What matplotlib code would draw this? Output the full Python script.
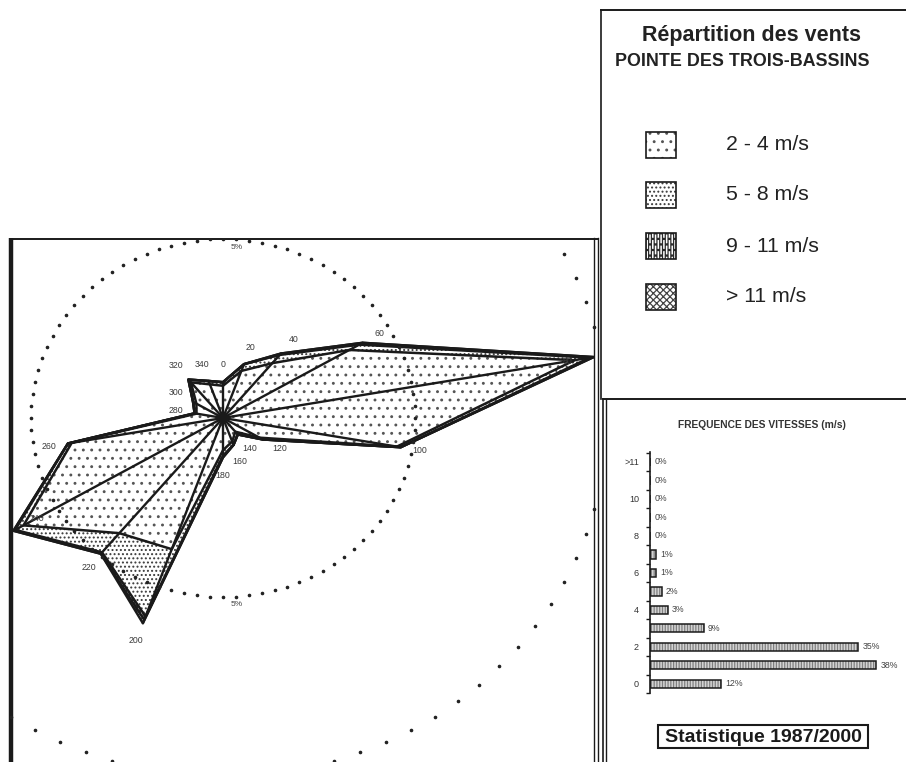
import numpy as np
import matplotlib
matplotlib.use("Agg")
import matplotlib.pyplot as plt
from matplotlib.patches import Polygon, Rectangle

# ============================================================
# Settings
# ============================================================

plt.rcParams.update({
    "font.family": "Liberation Sans",
    "hatch.linewidth": 0.9,
})

W, H = 906, 762

# ============================================================
# Data
# ============================================================

# wind rose: frequency (%) per direction and speed class
DIRECTIONS = [0, 20, 40, 60, 80, 100, 120, 140, 160,
              180, 200, 220, 240, 260, 280, 300, 320, 340]
FREQ_2_4 = [0.9, 1.4, 2.0, 3.8, 9.3, 4.6, 1.1, 0.5, 0.7,
            0.9, 3.9, 4.2, 6.0, 4.0, 0.7, 0.8, 1.3, 1.0]
FREQ_5_8 = [0.1, 0.2, 0.3, 0.3, 0.4, 0.1, 0.1, 0.1, 0.1,
            0.15, 2.0, 0.7, 0.25, 0.1, 0.05, 0.1, 0.1, 0.1]
FREQ_9_11 = [0.0, 0.0, 0.05, 0.1, 0.1, 0.0, 0.0, 0.0, 0.0,
             0.05, 0.1, 0.05, 0.05, 0.0, 0.0, 0.0, 0.0, 0.0]
FREQ_OVER_11 = [0.0, 0.0, 0.0, 0.0, 0.0, 0.0, 0.0, 0.0, 0.0,
                0.0, 0.1, 0.0, 0.0, 0.0, 0.0, 0.0, 0.0, 0.0]
CLASS_LABELS = ["2 - 4 m/s", "5 - 8 m/s", "9 - 11 m/s", "> 11 m/s"]
RINGS = [5, 10]

# speed histogram (m/s classes, %)
SPEED_TICKS = ["0", "", "2", "", "4", "", "6", "", "8", "", "10", "", ">11"]
SPEED_FREQ = [12, 38, 35, 9, 3, 2, 1, 1, 0, 0, 0, 0, 0]

HATCHES = ["..", "....", "||||||...", "xxxxx"]
HATCH_COLORS = ["#555555", "#3a3a3a", "#2a2a2a", "#444444"]

# ============================================================
# Figure and background layer (pixel coordinates)
# ============================================================

fig = plt.figure(figsize=(W / 100, H / 100), dpi=100)
fig.patch.set_facecolor("white")

bg = fig.add_axes([0, 0, 1, 1], zorder=0)
bg.set_xlim(0, W)
bg.set_ylim(H, 0)
bg.axis("off")

ink = "#1a1a1a"

# panel frames
bg.plot([11, 11], [238, H], color=ink, lw=3.2, solid_capstyle="butt")
bg.plot([10, 598], [239, 239], color=ink, lw=1.4)
bg.plot([594, 594], [238, H], color=ink, lw=1.0)
bg.plot([598, 598], [238, H], color=ink, lw=1.0)
bg.plot([601, W], [10, 10], color=ink, lw=1.4)
bg.plot([601, 601], [10, 399], color=ink, lw=1.2)
bg.plot([603, W], [399, 399], color=ink, lw=1.4)
bg.plot([603, 603], [399, H], color=ink, lw=1.2)
bg.plot([606, 606], [399, H], color=ink, lw=1.0)

# legend panel
bg.text(752, 35, "Répartition des vents", ha="center", va="center",
        fontsize=15.5, fontweight="bold", color="#222222")
bg.text(742, 62, "POINTE DES TROIS-BASSINS", ha="center", va="center",
        fontsize=12.9, fontweight="bold", color="#222222")

legend_y = [145, 195, 246, 297]
for k, (label, yc) in enumerate(zip(CLASS_LABELS, legend_y)):
    bg.add_patch(Rectangle((646, yc - 13), 30, 26, facecolor="white",
                           edgecolor=HATCH_COLORS[k], hatch=HATCHES[k], lw=0))
    bg.add_patch(Rectangle((646, yc - 13), 30, 26, fill=False,
                           edgecolor=ink, lw=1.2))
    bg.text(726, yc, label, ha="left", va="center", fontsize=15.3,
            color="#222222")

# histogram title and period box
bg.text(762, 425, "FREQUENCE DES VITESSES (m/s)", ha="center", va="center",
        fontsize=7.4, fontweight="bold", color="#333333")
bg.add_patch(Rectangle((658, 725), 210, 23, fill=False, edgecolor=ink, lw=1.5))
bg.text(763, 737, "Statistique 1987/2000", ha="center", va="center",
        fontsize=14, fontweight="bold", color="#1a1a1a")

# ============================================================
# Wind rose
# ============================================================

ax = fig.add_axes([10 / W, 0, 587 / W, 524 / H], zorder=1)
ax.set_xlim(-5.547, 9.74)
ax.set_ylim(-9.61, 5.028)
ax.axis("off")
ax.patch.set_alpha(0)

theta = np.deg2rad(DIRECTIONS)
classes = np.array([FREQ_2_4, FREQ_5_8, FREQ_9_11, FREQ_OVER_11])
cum = np.cumsum(classes, axis=0)

# outer class first, inner classes painted over it
for k in range(len(classes) - 1, -1, -1):
    r = cum[k]
    xy = np.column_stack([r * np.sin(theta), r * np.cos(theta)])
    ax.add_patch(Polygon(xy, closed=True, facecolor="white",
                         edgecolor=HATCH_COLORS[k], hatch=HATCHES[k],
                         lw=0, zorder=2 + (3 - k)))
    ax.add_patch(Polygon(xy, closed=True, fill=False, edgecolor=ink,
                         lw=1.8, joinstyle="round", zorder=7))

total = cum[-1]
for t, r in zip(theta, total):
    ax.plot([0, r * np.sin(t)], [0, r * np.cos(t)], color=ink, lw=1.7,
            solid_capstyle="round", zorder=8)

# dotted frequency rings
for ring, n in zip(RINGS, [92, 86]):
    a = np.linspace(0, 2 * np.pi, n, endpoint=False)
    ax.plot(ring * np.sin(a), ring * np.cos(a), ls="none", marker="o",
            ms=1.6, color="#222222", zorder=9)

ax.text(0.35, RINGS[0] - 0.25, "5%", ha="center", va="center",
        fontsize=6, color="#444444", zorder=10)
ax.text(0.35, -RINGS[0] - 0.2, "5%", ha="center", va="center",
        fontsize=6, color="#444444", zorder=10)

# direction labels next to each petal tip
for d, t, r in zip(DIRECTIONS, theta, total):
    rl = r + 0.5 if r < 6.2 else r - 0.7
    ax.text(rl * np.sin(t), rl * np.cos(t), str(d), ha="center",
            va="center", fontsize=6.3, color="#3a3a3a", zorder=10)

# ============================================================
# Speed histogram
# ============================================================

axb = fig.add_axes([650 / W, (H - 693) / H, 256 / W, 241 / H], zorder=1)
axb.patch.set_alpha(0)
rows = np.arange(len(SPEED_FREQ))

axb.barh(rows, SPEED_FREQ, height=0.45, color="#d4d4d4",
         edgecolor="#808080", hatch="||||||", lw=0)
bars = axb.barh(rows, SPEED_FREQ, height=0.45, fill=False,
                edgecolor=ink, lw=1.1)
axb.bar_label(bars, labels=[f"{v}%" for v in SPEED_FREQ], padding=3,
              fontsize=6.3, color="#444444")

axb.set_xlim(0, 43)
axb.set_ylim(-0.49, 12.54)
for side in ["top", "right", "bottom"]:
    axb.spines[side].set_visible(False)
axb.spines["left"].set_linewidth(1.2)
axb.spines["left"].set_color(ink)
axb.set_xticks([])
axb.set_yticks(rows)
axb.set_yticklabels(SPEED_TICKS, fontsize=6.5, color="#333333")
axb.set_yticks(np.arange(-0.5, len(SPEED_FREQ), 1.0), minor=True)
axb.tick_params(axis="y", which="major", length=0, pad=8)
axb.tick_params(axis="y", which="minor", length=3, width=1, color=ink)

plt.savefig("out.png", dpi=100)
plt.close()
